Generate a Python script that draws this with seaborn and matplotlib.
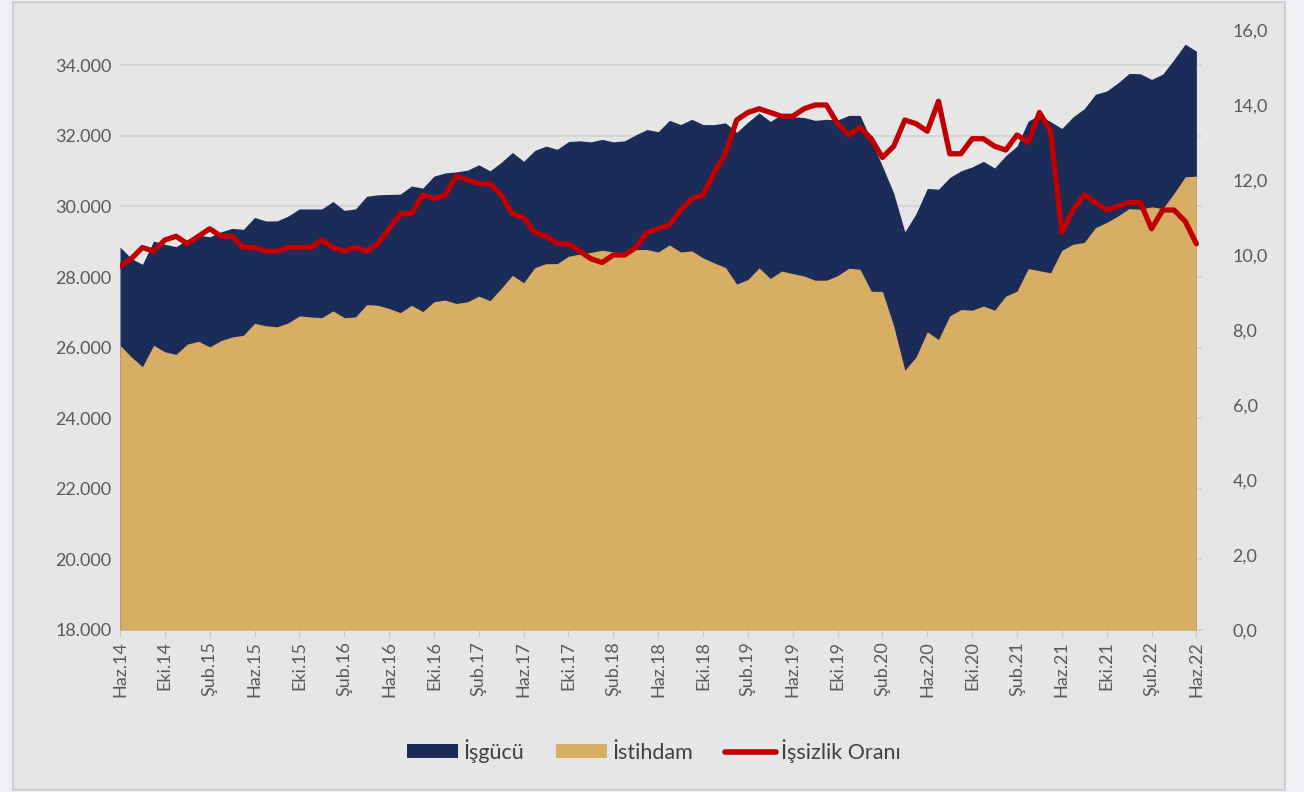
import numpy as np
import pandas as pd
import matplotlib
matplotlib.use("Agg")
import matplotlib.pyplot as plt
import seaborn as sns
from matplotlib.patches import Patch, Rectangle
from matplotlib.lines import Line2D
from matplotlib.ticker import FuncFormatter

# ---------------- data (Haz.14 .. Haz.22, monthly) ----------------
isgucu = [28850, 28530, 28360, 29020, 28930, 28860, 29060, 29190, 29140, 29280,
          29380, 29350, 29690, 29590, 29590, 29730, 29930, 29930, 29930, 30140,
          29890, 29930, 30290, 30330, 30340, 30350, 30580, 30520, 30860, 30950,
          30980, 31030, 31180, 31010, 31250, 31530, 31280, 31590, 31710, 31620,
          31840, 31860, 31830, 31900, 31830, 31860, 32030, 32180, 32120, 32440,
          32320, 32470, 32320, 32320, 32370, 32100, 32390, 32650, 32410, 32610,
          32540, 32520, 32440, 32470, 32450, 32580, 32580, 31880, 31140, 30380,
          29280, 29800, 30510, 30490, 30820, 31010, 31120, 31280, 31090, 31440,
          31710, 32420, 32590, 32400, 32210, 32540, 32770, 33180, 33270, 33500,
          33770, 33760, 33600, 33750, 34160, 34600, 34400]

istihdam = [26070, 25740, 25460, 26070, 25880, 25810, 26100, 26180, 26020, 26200,
            26300, 26350, 26690, 26620, 26590, 26700, 26900, 26870, 26850, 27040,
            26850, 26870, 27220, 27200, 27110, 26990, 27200, 27020, 27300, 27350,
            27250, 27300, 27460, 27330, 27680, 28050, 27840, 28270, 28380, 28380,
            28590, 28650, 28700, 28760, 28710, 28670, 28780, 28780, 28710, 28910,
            28710, 28740, 28540, 28400, 28270, 27800, 27930, 28260, 27960, 28170,
            28100, 28030, 27910, 27910, 28040, 28250, 28220, 27600, 27590, 26620,
            25360, 25740, 26450, 26230, 26900, 27080, 27060, 27180, 27060, 27460,
            27600, 28240, 28180, 28120, 28760, 28930, 28980, 29400, 29550, 29730,
            29940, 29920, 29990, 29940, 30370, 30840, 30860]

issizlik_orani = [9.7, 9.9, 10.2, 10.1, 10.4, 10.5, 10.3, 10.5, 10.7, 10.5,
                  10.5, 10.2, 10.2, 10.1, 10.1, 10.2, 10.2, 10.2, 10.4, 10.2,
                  10.1, 10.2, 10.1, 10.3, 10.7, 11.1, 11.1, 11.6, 11.5, 11.6,
                  12.1, 12.0, 11.9, 11.9, 11.6, 11.1, 11.0, 10.6, 10.5, 10.3,
                  10.3, 10.1, 9.9, 9.8, 10.0, 10.0, 10.2, 10.6, 10.7, 10.8,
                  11.2, 11.5, 11.6, 12.2, 12.7, 13.6, 13.8, 13.9, 13.8, 13.7,
                  13.7, 13.9, 14.0, 14.0, 13.5, 13.2, 13.4, 13.1, 12.6, 12.9,
                  13.6, 13.5, 13.3, 14.1, 12.7, 12.7, 13.1, 13.1, 12.9, 12.8,
                  13.2, 13.0, 13.8, 13.3, 10.6, 11.2, 11.6, 11.4, 11.2, 11.3,
                  11.4, 11.4, 10.7, 11.2, 11.2, 10.9, 10.3]

tick_labels = ["Haz.14", "Eki.14", "Şub.15", "Haz.15", "Eki.15", "Şub.16", "Haz.16",
               "Eki.16", "Şub.17", "Haz.17", "Eki.17", "Şub.18", "Haz.18", "Eki.18",
               "Şub.19", "Haz.19", "Eki.19", "Şub.20", "Haz.20", "Eki.20", "Şub.21",
               "Haz.21", "Eki.21", "Şub.22", "Haz.22"]

series_names = ["İşgücü", "İstihdam", "İşsizlik Oranı"]

left_ticks = list(range(18000, 34001, 2000))
right_ticks = list(range(0, 17, 2))

# ---------------- styles ----------------
NAVY = "#1B2C59"
TAN = "#D8AE65"
RED = "#C00000"
PANEL = "#E6E6E6"
TXT = "#595959"

sns.set_theme(style="white")
plt.rcParams['font.family'] = ['Lato', 'DejaVu Sans']

W, H = 1304, 792
fig = plt.figure(figsize=(W / 100, H / 100), dpi=100, facecolor="#EEF0F3")
fig.patches.append(Rectangle((13 / W, 2 / H), (1285 - 13) / W, (790 - 2) / H,
                             transform=fig.transFigure, facecolor=PANEL,
                             edgecolor="#CFCFCF", lw=1.5, zorder=-10))

ax = fig.add_axes([120 / W, 1 - 630 / H, (1202 - 120) / W, 600 / H])
ax.set_facecolor("none")

df = pd.DataFrame({"x": np.arange(len(isgucu)), "isgucu": isgucu,
                   "istihdam": istihdam, "oran": issizlik_orani})

ax.fill_between(df["x"], 18000, df["isgucu"], color=NAVY, lw=0, zorder=2)
ax.fill_between(df["x"], 18000, df["istihdam"], color=TAN, lw=0, zorder=3)

ax.set_xlim(0, 96.5)
ax.set_ylim(18000, 35000)
ax.set_yticks(left_ticks)
ax.yaxis.set_major_formatter(FuncFormatter(lambda v, p: f"{int(v):,}".replace(",", ".")))
ax.set_xticks(np.arange(0, len(isgucu), 4))
ax.set_xticklabels(tick_labels, rotation=90)
ax.grid(axis="y", color="#D4D4D4", lw=1.3)
ax.grid(axis="x", visible=False)
ax.set_axisbelow(True)
for s in ["left", "right", "top"]:
    ax.spines[s].set_visible(False)
ax.spines["bottom"].set_color("#D0D0D0")
ax.spines["bottom"].set_linewidth(1.2)
ax.tick_params(axis="x", length=5, width=1, color="#C8C8C8", labelcolor=TXT,
               labelsize=13, pad=3, bottom=True)
ax.tick_params(axis="y", length=0, labelcolor=TXT, labelsize=13, pad=6)

ax2 = ax.twinx()
ax2.set_facecolor("none")
sns.lineplot(data=df, x="x", y="oran", ax=ax2, color=RED, lw=3.8,
             legend=False, zorder=5, solid_capstyle="round", solid_joinstyle="round")
ax2.set_ylim(0, 16)
ax2.set_yticks(right_ticks)
ax2.yaxis.set_major_formatter(FuncFormatter(lambda v, p: f"{v:.1f}".replace(".", ",")))
ax2.tick_params(axis="y", length=0, labelcolor=TXT, labelsize=13, pad=22)
for s in ax2.spines.values():
    s.set_visible(False)
ax2.set_xlabel("")
ax2.set_ylabel("")
ax.set_xlabel("")
ax.set_ylabel("")
ax.set_xlim(0, 96.5)

handles = [Patch(facecolor=NAVY, edgecolor="none"),
           Patch(facecolor=TAN, edgecolor="none"),
           Line2D([0], [0], color=RED, lw=4, solid_capstyle="round")]
fig.legend(handles, series_names, loc="center", bbox_to_anchor=(654 / W, 1 - 751 / H),
           ncol=3, frameon=False, fontsize=15.5, handlelength=2.35, handleheight=0.6,
           handletextpad=0.25, columnspacing=1.5, labelcolor="#404040")

fig.savefig("out.png", dpi=100, facecolor=fig.get_facecolor())
